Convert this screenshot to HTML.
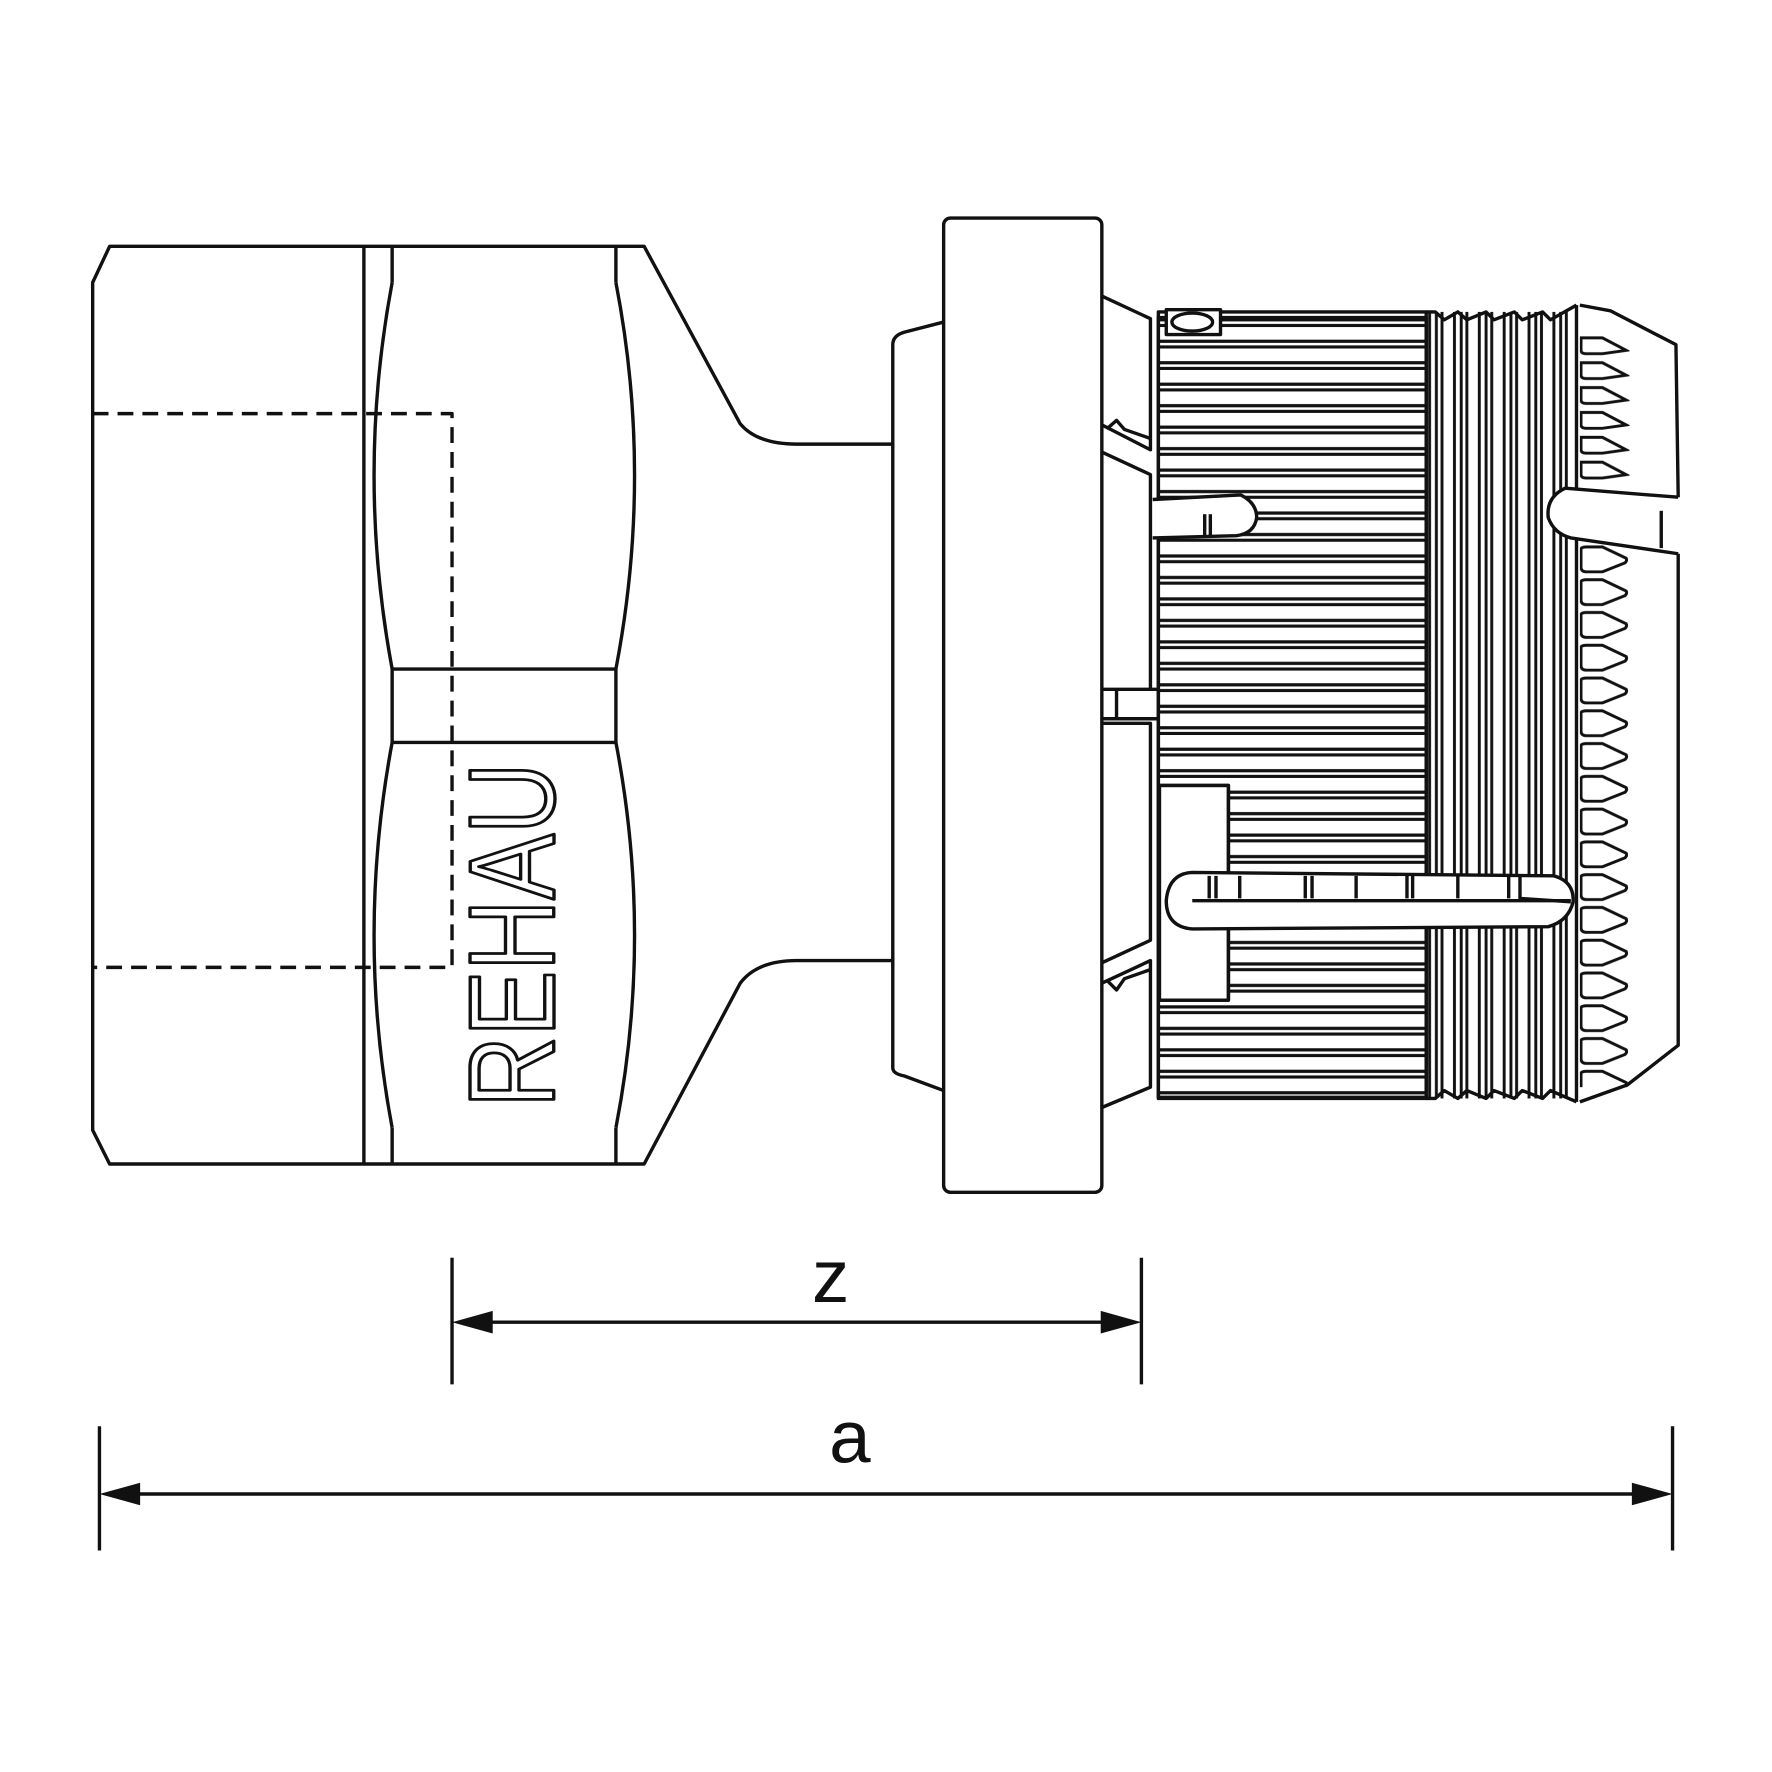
<!DOCTYPE html>
<html><head><meta charset="utf-8"><style>html,body{margin:0;padding:0;background:#fff}svg{display:block}</style></head>
<body>
<svg width="1772" height="1772" viewBox="0 0 1568 1568" xmlns="http://www.w3.org/2000/svg">
<defs>
<pattern id="ribs" x="0" y="281" width="240" height="19" patternUnits="userSpaceOnUse">
<line x1="0" y1="2" x2="240" y2="2" stroke="#111" stroke-width="2.8"/>
<line x1="0" y1="7" x2="240" y2="7" stroke="#111" stroke-width="2.8"/>
</pattern>
<pattern id="vg" x="1262" y="0" width="22" height="10" patternUnits="userSpaceOnUse">
<line x1="3" y1="0" x2="3" y2="10" stroke="#111" stroke-width="2.6"/>
<line x1="9" y1="0" x2="9" y2="10" stroke="#111" stroke-width="2.6"/>
<line x1="14" y1="0" x2="14" y2="10" stroke="#111" stroke-width="2.6"/>
</pattern>
<pattern id="teeth" x="1398" y="482" width="50" height="29" patternUnits="userSpaceOnUse">
<path d="M1,4 Q1,2 6,2 L20,2 L41,12 Q42,14 40,16 L20,24 L6,24 Q1,24 1,20 Z" fill="none" stroke="#111" stroke-width="2.6"/>
</pattern>
<pattern id="teeth2" x="1398" y="296" width="50" height="22" patternUnits="userSpaceOnUse">
<path d="M1,3 L20,3 L41,14 L20,17 L6,17 Q1,17 1,14 Z" fill="none" stroke="#111" stroke-width="2.6"/>
</pattern>
</defs>
<g fill="none" stroke="#111" stroke-width="3" stroke-linejoin="round">
<!-- left body -->
<path d="M790,850 L705,850 Q670,850 655,870 L570,1030 L97,1030 L82,1000 L82,250 L97,218 L570,218 L655,375 Q670,393 705,393 L790,393"/>
<line x1="322" y1="218" x2="322" y2="1030"/>
<line x1="347" y1="218" x2="347" y2="250"/>
<line x1="545" y1="218" x2="545" y2="250"/>
<path d="M347,250 Q315,420 347,592 M545,250 Q578,420 545,592"/>
<line x1="347" y1="592" x2="545" y2="592"/>
<line x1="347" y1="657" x2="545" y2="657"/>
<line x1="347" y1="592" x2="347" y2="657"/>
<line x1="545" y1="592" x2="545" y2="657"/>
<path d="M347,657 Q315,828 347,998 M545,657 Q578,828 545,998"/>
<line x1="347" y1="998" x2="347" y2="1030"/>
<line x1="545" y1="998" x2="545" y2="1030"/>
<path d="M82,366 L400,366 L400,856 L82,856" stroke-dasharray="14,8"/>
<!-- flange -->
<path d="M835,285 L800,294 Q790,297 790,305 L790,945 Q790,950 800,952 L835,965"/>
<rect x="835" y="193" width="140" height="862" rx="6" fill="#fff"/>
<!-- clips -->
<path d="M975,262 L1018,282 L1018,398 L975,376 M975,400 L1018,420 L1018,610 M975,610 L1025,610 M975,636 L1025,636 M988,610 L988,636 M975,870 L1018,850 L1018,962 L975,980 M975,640 L1018,640 L1018,832 L975,852"/>
<path d="M980,379 L988,372 L995,380 L1018,388"/>
<path d="M980,868 L988,876 L995,866 L1018,858"/>
<!-- ribs -->
<rect x="1025" y="281" width="237" height="690" fill="url(#ribs)"/>
<path d="M1025,276 L1262,276 L1262,972 L1025,972 Z"/>
<rect x="1032" y="274" width="48" height="22" fill="#fff"/>
<ellipse cx="1055" cy="285" rx="18" ry="8"/>
<!-- vertical grooves -->
<rect x="1262" y="276" width="133" height="696" fill="url(#vg)" stroke="none"/>
<path d="M1262,276 L1270,276 L1278,283 L1290,276 L1298,283 L1315,276 L1322,283 L1340,276 L1347,283 L1365,276 L1372,283 L1395,270"/>
<path d="M1262,972 L1270,972 L1278,965 L1290,972 L1298,965 L1315,972 L1322,965 L1340,972 L1347,965 L1365,972 L1372,965 L1395,975"/>
<line x1="1395" y1="270" x2="1395" y2="975"/>
<!-- teeth -->
<rect x="1397" y="296" width="45" height="132" fill="url(#teeth2)" stroke="none"/>
<rect x="1397" y="482" width="45" height="480" fill="url(#teeth)" stroke="none"/>
<path d="M1398,270 L1425,275 L1483,305 L1485,440 M1485,490 L1485,925 L1440,960 L1398,975"/>
<!-- upper slots -->
<path d="M1020,442 L1098,438 Q1112,445 1112,458 Q1110,472 1094,474 L1020,476" fill="#fff"/>
<line x1="1066" y1="455" x2="1066" y2="474"/>
<line x1="1071" y1="455" x2="1071" y2="474"/>
<path d="M1485,440 L1385,432 Q1368,440 1370,458 Q1375,472 1390,476 L1485,490" fill="#fff"/>
<line x1="1470" y1="452" x2="1470" y2="485"/>
<!-- lower box and long slot -->
<rect x="1026" y="695" width="61" height="190" fill="#fff"/>
<path d="M1025,695 L1087,695 L1087,775 M1087,822 L1087,885 L1025,885"/>
<path d="M1055,772 L1375,775 Q1393,780 1392,798 Q1388,815 1370,820 L1055,822 Q1032,820 1032,797 Q1034,773 1055,772 Z" fill="#fff"/>
<path d="M1070,775 L1070,795 M1076,775 L1076,795 M1097,775 L1097,795 M1155,775 L1155,795 M1161,775 L1161,795 M1200,775 L1200,795 M1245,775 L1245,795 M1250,775 L1250,795 M1290,775 L1290,795 M1335,775 L1335,795 M1345,775 L1345,795 L1390,798 M1055,797 L1390,797"/>
<!-- REHAU -->
<text x="0" y="0" transform="translate(490,980) rotate(-90)" font-family="Liberation Sans, sans-serif" font-size="108" fill="#fff" stroke="#111" stroke-width="3" textLength="305" lengthAdjust="spacingAndGlyphs">REHAU</text>
<!-- dimensions -->
<line x1="400" y1="1113" x2="400" y2="1225"/>
<line x1="1010" y1="1113" x2="1010" y2="1225"/>
<line x1="430" y1="1170" x2="980" y2="1170"/>
<line x1="88" y1="1262" x2="88" y2="1372"/>
<line x1="1480" y1="1262" x2="1480" y2="1372"/>
<line x1="118" y1="1322" x2="1450" y2="1322"/>
</g>
<g fill="#111">
<path d="M400,1170 L436,1160 L436,1180 Z"/>
<path d="M1010,1170 L974,1160 L974,1180 Z"/>
<path d="M88,1322 L124,1312 L124,1332 Z"/>
<path d="M1480,1322 L1444,1312 L1444,1332 Z"/>
</g>
<text x="735" y="1152" text-anchor="middle" font-family="Liberation Sans, sans-serif" font-size="66" fill="#111">z</text>
<text x="752" y="1294" text-anchor="middle" font-family="Liberation Sans, sans-serif" font-size="66" fill="#111">a</text>
</svg>
</body></html>
